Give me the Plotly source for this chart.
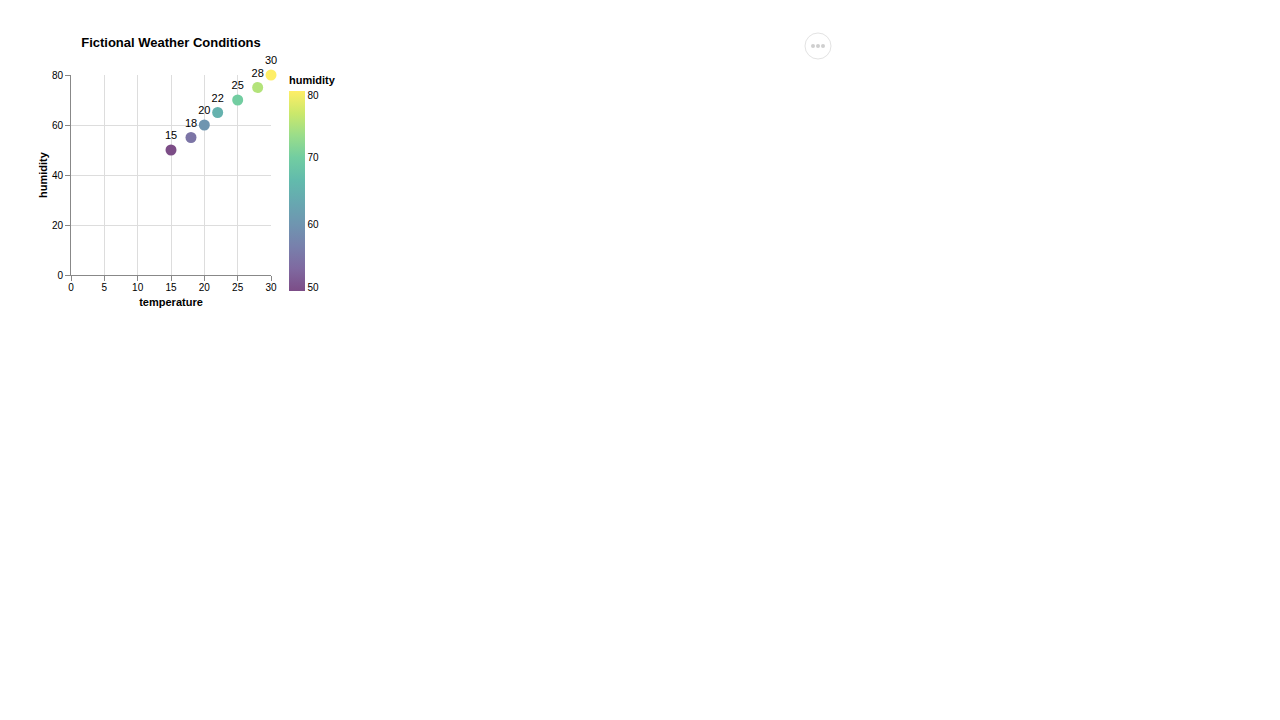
import plotly.graph_objects as go
import plotly.colors as pc

temperature = [15, 18, 20, 22, 25, 28, 30]
humidity = [50, 55, 60, 65, 70, 75, 80]
x_ticks = [0, 5, 10, 15, 20, 25, 30]
y_ticks = [0, 20, 40, 60, 80]
cbar_ticks = [50, 60, 70, 80]

W, H = 1280, 720
L, R, T, B = 71, 271, 75, 275
FONT = "Liberation Sans, Arial, sans-serif"

def blend(c, a=0.7):
    r, g, b = pc.hex_to_rgb(c) if c.startswith("#") else pc.unlabel_rgb(c)
    return "rgb(%d,%d,%d)" % (round(r * a + 255 * (1 - a)), round(g * a + 255 * (1 - a)), round(b * a + 255 * (1 - a)))

vir = pc.sequential.Viridis
scale = [[i / (len(vir) - 1), blend(c)] for i, c in enumerate(vir)]

def px_x(p):
    return (p - L) / (R - L)

def px_y(p):
    return (B - p) / (B - T)

# colorbar end labels sit inside the bar like in the reference (flush labels)
cmin, cmax = min(cbar_ticks), max(cbar_ticks)
nudge = (cmax - cmin) * 4 / 200
cb_pos = [v + nudge if v == cmin else (v - nudge if v == cmax else v) for v in cbar_ticks]

fig = go.Figure(go.Scatter(
    x=temperature, y=humidity, mode="markers+text",
    text=[str(t) for t in temperature], textposition="top center",
    textfont=dict(family=FONT, size=11, color="#000"),
    marker=dict(size=11, color=humidity, colorscale=scale, cmin=cmin, cmax=cmax,
                line=dict(width=0),
                colorbar=dict(
                    x=px_x(289), xanchor="left", xpad=0,
                    y=px_y(91), yanchor="top", ypad=0,
                    len=200, lenmode="pixels", thickness=16, thicknessmode="pixels",
                    outlinewidth=0, ticks="", ticklen=0,
                    tickvals=cb_pos, ticktext=[str(v) for v in cbar_ticks],
                    tickfont=dict(family=FONT, size=10, color="#000"),
                )),
    cliponaxis=False, hoverinfo="x+y",
))

axis_common = dict(
    showgrid=True, gridcolor="#ddd", gridwidth=1,
    showline=True, linecolor="#888", linewidth=1,
    ticks="outside", ticklen=5, tickcolor="#888", tickwidth=1,
    tickfont=dict(family=FONT, size=10, color="#000"),
    zeroline=False, fixedrange=True,
)

fig.update_xaxes(range=[0, 30], tickvals=x_ticks, ticklabelstandoff=-2,
                 title=dict(text="<b>temperature</b>", font=dict(family=FONT, size=11, color="#000"), standoff=6),
                 **axis_common)
fig.update_yaxes(range=[0, 80], tickvals=y_ticks,
                 title=dict(text="<b>humidity</b>", font=dict(family=FONT, size=11, color="#000"), standoff=2),
                 **axis_common)

dots = [dict(type="circle", xref="paper", yref="paper",
             x0=px_x(cx - 2), x1=px_x(cx + 2), y0=px_y(48), y1=px_y(44),
             line=dict(width=0), fillcolor="#cfcfcf") for cx in (813, 818, 823)]

fig.update_layout(
    width=W, height=H, autosize=False,
    margin=dict(l=L, r=W - R, t=T, b=H - B, pad=0),
    paper_bgcolor="white", plot_bgcolor="white",
    font=dict(family=FONT, color="#000"),
    showlegend=False,
    title=dict(text="<b>Fictional Weather Conditions</b>", x=px_x(171), xref="paper", xanchor="center",
               y=1 - 42 / H, yref="container", yanchor="middle",
               font=dict(family=FONT, size=13, color="#000")),
    shapes=[dict(type="circle", xref="paper", yref="paper",
                 x0=px_x(805), x1=px_x(831), y0=px_y(59), y1=px_y(33),
                 line=dict(color="#e3e3e3", width=1), fillcolor="white")] + dots,
    annotations=[dict(text="<b>humidity</b>", xref="paper", yref="paper",
                      x=px_x(287), y=px_y(80), xanchor="left", yanchor="middle",
                      showarrow=False, font=dict(family=FONT, size=11, color="#000"))],
)

fig.write_html("out.html", config={"displayModeBar": False})
